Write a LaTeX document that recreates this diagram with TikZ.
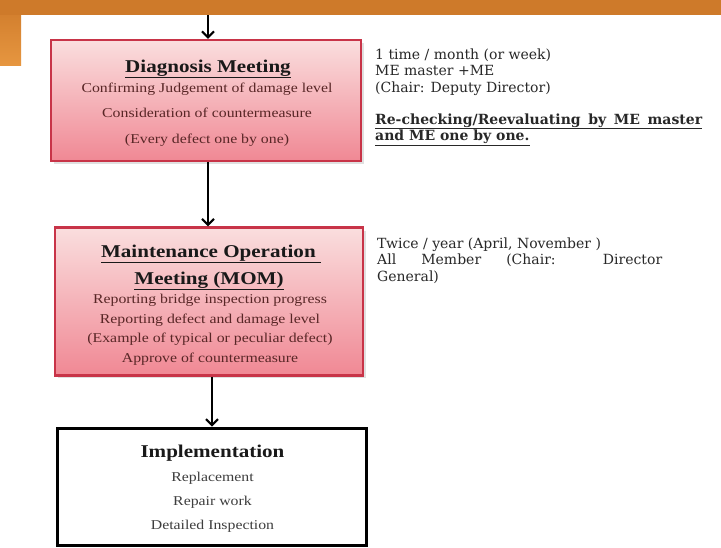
\documentclass[tikz,border=0pt]{standalone}
\usepackage{fontspec}
\setmainfont[FakeStretch=1.17]{Liberation Serif}
\newfontfamily\notefont{DejaVu Serif}
\usetikzlibrary{arrows.meta}

\definecolor{bandorange}{RGB}{206,122,42}
\definecolor{tablight}{RGB}{230,150,64}
\definecolor{boxred}{RGB}{200,52,72}
\definecolor{pinktop}{RGB}{250,222,222}
\definecolor{pinkbot}{RGB}{240,136,148}
\definecolor{boxtext}{RGB}{88,38,38}
\definecolor{darkgray}{RGB}{62,62,62}
\definecolor{notegray}{RGB}{40,40,40}

\begin{document}
\begin{tikzpicture}[x=1pt,y=-1pt,
  redbox/.style={draw=boxred,line width=2.4pt,top color=pinktop,bottom color=pinkbot,inner sep=0pt},
  plainbox/.style={draw=black,line width=3pt,fill=white,inner sep=0pt},
  boxshadow/.style={fill=black!40,opacity=0.3},
  title/.style={anchor=base,inner sep=0pt,font=\fontsize{18}{20}\selectfont\bfseries,text=black!90},
  bodyline/.style={anchor=base,inner sep=0pt,font=\fontsize{13.5}{15}\selectfont,text=boxtext},
  implline/.style={anchor=base,inner sep=0pt,font=\fontsize{13.5}{15}\selectfont,text=darkgray},
  note/.style={anchor=base west,inner sep=0pt,font=\notefont\fontsize{14}{16}\selectfont,text=notegray},
  flow/.style={line width=2pt,-{Straight Barb[length=6pt,width=12pt,line width=2pt]}}]

% page frame
\useasboundingbox (0,0) rectangle (721,547);
\fill[white] (0,0) rectangle (721,547);

% orange header band with its left tab
\fill[top color=bandorange,bottom color=tablight] (0,0) rectangle (21,65);
\fill[bandorange] (0,0) rectangle (721,15);

% soft shadows under the two meeting boxes
\fill[boxshadow] (54,43) rectangle (364,164);
\fill[boxshadow] (58,231) rectangle (366,378);

% boxes
\node[redbox,minimum width=310pt,minimum height=121pt] (diag) at (206,100.5) {};
\node[redbox,minimum width=308pt,minimum height=148pt] (mom) at (209,301.5) {};
\node[plainbox,minimum width=309pt,minimum height=117pt] (impl) at (212,486.5) {};

% Diagnosis Meeting
\node[title] (diagT) at (208,72) {\underline{Diagnosis Meeting}};
\node[bodyline] (diag1) at (207,92) {Confirming Judgement of damage level};
\node[bodyline] (diag2) at (207,117.5) {Consideration of countermeasure};
\node[bodyline] (diag3) at (207,143) {(Every defect one by one)};

% Maintenance Operation Meeting
\node[title] (momT1) at (211,257) {\underline{Maintenance Operation\ }};
\node[title] (momT2) at (209,284) {\underline{Meeting (MOM)}};
\node[bodyline] (mom1) at (210,303.5) {Reporting bridge inspection progress};
\node[bodyline] (mom2) at (210,323) {Reporting defect and damage level};
\node[bodyline] (mom3) at (210,342.5) {(Example of typical or peculiar defect)};
\node[bodyline] (mom4) at (210,362) {Approve of countermeasure};

% Implementation
\node[title] (implT) at (212.5,457) {Implementation};
\node[implline] (impl1) at (212.5,481) {Replacement};
\node[implline] (impl2) at (212.5,505) {Repair work};
\node[implline] (impl3) at (212.5,529.5) {Detailed Inspection};

% notes beside the boxes
\node[note] (n1) at (375,59) {1 time / month (or week)};
\node[note] (n2) at (375,75.5) {ME master +ME};
\node[note] (n3) at (375,92) {(Chair: Deputy Director)};
\node[note,font=\notefont\fontsize{14}{16}\selectfont\bfseries] (n4) at (375,124) {\underline{\makebox[327pt][s]{Re-checking/Reevaluating by ME master}}};
\node[note,font=\notefont\fontsize{14}{16}\selectfont\bfseries] (n5) at (375,140.5) {\underline{and ME one by one.}};

\node[note] (m1) at (377,248) {Twice / year (April, November )};
\node[note] (m2) at (377,264.5) {\makebox[285pt][s]{All Member (Chair: Director}};
\node[note] (m3) at (377,281) {General)};

% connectors
\coordinate (entry) at (208,15);
\draw[flow] (entry) -- (entry |- diag.north);
\draw[flow] (diag.south) ++(2,0) coordinate (diagout) -- (diagout |- mom.north);
\draw[flow] (mom.south) ++(3,0) coordinate (momout) -- (momout |- impl.north);
\end{tikzpicture}
\end{document}
